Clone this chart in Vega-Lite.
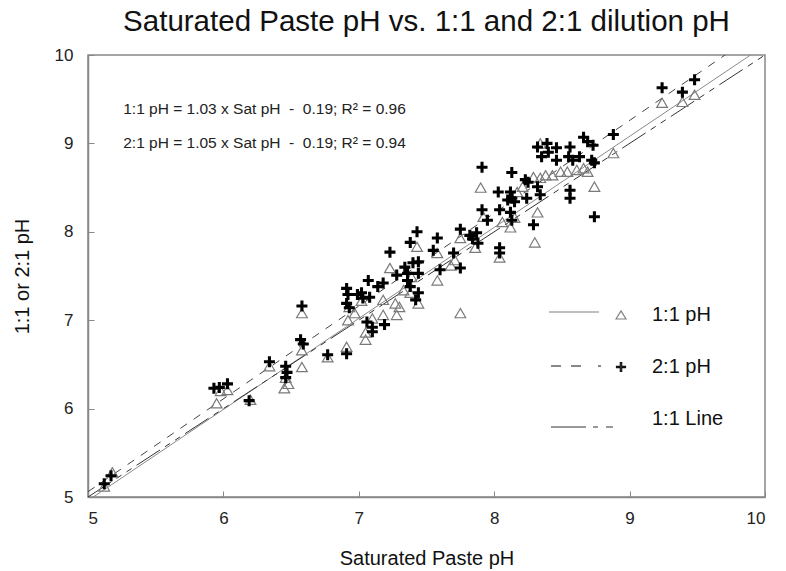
{
"$schema": "https://vega.github.io/schema/vega-lite/v6.json",
"width": 677, "height": 442,
"autosize": {"type": "none"},
"padding": {"left": 88, "top": 55, "right": 21, "bottom": 74},
"background": "white",
"title": {"text": "Saturated Paste pH vs. 1:1 and 2:1 dilution pH", "fontSize": 29.5, "font": "Liberation Sans", "fontWeight": "normal", "color": "#111", "anchor": "middle", "offset": 5},
"config": {
  "view": {"stroke": "#888", "strokeWidth": 1.5},
  "axis": {"domainColor": "#888", "domainWidth": 1.5, "tickColor": "#888", "tickSize": -6, "tickWidth": 1, "labelFont": "Liberation Sans", "labelFontSize": 17, "labelColor": "#222", "titleFont": "Liberation Sans", "titleFontSize": 20, "titleFontWeight": "normal", "titleColor": "#111", "grid": false}
},
"datasets": {
  "p11": [{"sat":5.12,"ph":5.12},{"sat":5.18,"ph":5.28},{"sat":5.95,"ph":6.06},{"sat":5.98,"ph":6.2},{"sat":6.03,"ph":6.21},{"sat":6.2,"ph":6.1},{"sat":6.34,"ph":6.48},{"sat":6.45,"ph":6.23},{"sat":6.48,"ph":6.28},{"sat":6.46,"ph":6.35},{"sat":6.58,"ph":7.08},{"sat":6.58,"ph":6.66},{"sat":6.58,"ph":6.47},{"sat":6.77,"ph":6.58},{"sat":6.91,"ph":6.7},{"sat":6.92,"ph":7.0},{"sat":6.93,"ph":7.15},{"sat":6.97,"ph":7.08},{"sat":7.02,"ph":7.22},{"sat":7.05,"ph":6.86},{"sat":7.05,"ph":6.78},{"sat":7.1,"ph":7.02},{"sat":7.18,"ph":7.06},{"sat":7.18,"ph":7.23},{"sat":7.23,"ph":7.59},{"sat":7.27,"ph":7.19},{"sat":7.28,"ph":7.06},{"sat":7.3,"ph":7.15},{"sat":7.33,"ph":7.34},{"sat":7.38,"ph":7.31},{"sat":7.39,"ph":7.49},{"sat":7.43,"ph":7.83},{"sat":7.44,"ph":7.19},{"sat":7.58,"ph":7.76},{"sat":7.58,"ph":7.45},{"sat":7.68,"ph":7.62},{"sat":7.71,"ph":7.68},{"sat":7.75,"ph":7.08},{"sat":7.75,"ph":7.93},{"sat":7.86,"ph":7.82},{"sat":7.9,"ph":8.5},{"sat":7.92,"ph":8.17},{"sat":8.04,"ph":7.71},{"sat":8.06,"ph":8.11},{"sat":8.12,"ph":8.05},{"sat":8.13,"ph":8.39},{"sat":8.15,"ph":8.16},{"sat":8.17,"ph":8.45},{"sat":8.21,"ph":8.51},{"sat":8.29,"ph":8.62},{"sat":8.3,"ph":7.88},{"sat":8.32,"ph":8.22},{"sat":8.34,"ph":8.61},{"sat":8.34,"ph":9.0},{"sat":8.38,"ph":8.64},{"sat":8.43,"ph":8.64},{"sat":8.49,"ph":8.68},{"sat":8.54,"ph":8.68},{"sat":8.61,"ph":8.7},{"sat":8.66,"ph":8.72},{"sat":8.69,"ph":8.68},{"sat":8.74,"ph":8.51},{"sat":8.88,"ph":8.89},{"sat":9.24,"ph":9.46},{"sat":9.39,"ph":9.47},{"sat":9.48,"ph":9.55}],
  "p21": [{"sat":5.12,"ph":5.15},{"sat":5.17,"ph":5.24},{"sat":5.93,"ph":6.23},{"sat":5.97,"ph":6.24},{"sat":6.03,"ph":6.28},{"sat":6.19,"ph":6.09},{"sat":6.34,"ph":6.53},{"sat":6.46,"ph":6.48},{"sat":6.47,"ph":6.41},{"sat":6.46,"ph":6.35},{"sat":6.58,"ph":7.16},{"sat":6.57,"ph":6.78},{"sat":6.59,"ph":6.73},{"sat":6.77,"ph":6.61},{"sat":6.91,"ph":6.62},{"sat":6.91,"ph":7.36},{"sat":6.92,"ph":7.29},{"sat":6.91,"ph":7.19},{"sat":6.93,"ph":7.14},{"sat":6.99,"ph":7.29},{"sat":7.02,"ph":7.31},{"sat":7.03,"ph":7.25},{"sat":7.07,"ph":7.45},{"sat":7.08,"ph":7.26},{"sat":7.14,"ph":7.38},{"sat":7.18,"ph":7.42},{"sat":7.06,"ph":6.98},{"sat":7.1,"ph":6.92},{"sat":7.19,"ph":6.95},{"sat":7.1,"ph":6.87},{"sat":7.23,"ph":7.77},{"sat":7.38,"ph":7.88},{"sat":7.43,"ph":8.0},{"sat":7.28,"ph":7.51},{"sat":7.34,"ph":7.6},{"sat":7.36,"ph":7.53},{"sat":7.36,"ph":7.45},{"sat":7.4,"ph":7.65},{"sat":7.44,"ph":7.66},{"sat":7.44,"ph":7.53},{"sat":7.38,"ph":7.38},{"sat":7.44,"ph":7.31},{"sat":7.42,"ph":7.23},{"sat":7.55,"ph":7.79},{"sat":7.58,"ph":7.93},{"sat":7.6,"ph":7.57},{"sat":7.7,"ph":7.76},{"sat":7.75,"ph":7.59},{"sat":7.75,"ph":8.03},{"sat":7.82,"ph":7.96},{"sat":7.84,"ph":7.92},{"sat":7.87,"ph":7.99},{"sat":7.88,"ph":7.87},{"sat":7.91,"ph":8.73},{"sat":8.13,"ph":8.67},{"sat":8.03,"ph":8.45},{"sat":8.12,"ph":8.45},{"sat":8.13,"ph":8.38},{"sat":8.1,"ph":8.36},{"sat":8.15,"ph":8.34},{"sat":8.23,"ph":8.59},{"sat":8.25,"ph":8.56},{"sat":8.24,"ph":8.38},{"sat":8.32,"ph":8.51},{"sat":8.34,"ph":8.42},{"sat":7.91,"ph":8.25},{"sat":8.04,"ph":8.25},{"sat":8.12,"ph":8.22},{"sat":8.13,"ph":8.13},{"sat":7.95,"ph":8.13},{"sat":8.04,"ph":7.82},{"sat":8.04,"ph":7.76},{"sat":8.29,"ph":8.08},{"sat":8.56,"ph":8.47},{"sat":8.56,"ph":8.38},{"sat":8.74,"ph":8.17},{"sat":8.32,"ph":8.96},{"sat":8.39,"ph":9.0},{"sat":8.4,"ph":8.9},{"sat":8.46,"ph":8.95},{"sat":8.46,"ph":8.81},{"sat":8.56,"ph":8.96},{"sat":8.55,"ph":8.85},{"sat":8.58,"ph":8.81},{"sat":8.63,"ph":8.85},{"sat":8.66,"ph":9.07},{"sat":8.69,"ph":9.02},{"sat":8.73,"ph":8.98},{"sat":8.72,"ph":8.81},{"sat":8.74,"ph":8.78},{"sat":8.35,"ph":8.85},{"sat":8.88,"ph":9.1},{"sat":9.24,"ph":9.63},{"sat":9.39,"ph":9.58},{"sat":9.48,"ph":9.72}],
  "reg11": [{"sat":5,"ph":4.96},{"sat":10,"ph":10.11}],
  "reg21": [{"sat":5,"ph":5.06},{"sat":10,"ph":10.31}],
  "oneone": [{"sat":5,"ph":5},{"sat":10,"ph":10}],
  "notes": [{"label":"1:1 pH = 1.03 x Sat pH \u00a0-\u00a0 0.19; R² = 0.96","sat":5.26,"ph":9.39},{"label":"2:1 pH = 1.05 x Sat pH \u00a0-\u00a0 0.19; R² = 0.94","sat":5.26,"ph":9.0}],
  "series": [{"series":"1:1 pH"},{"series":"2:1 pH"},{"series":"1:1 Line"}]
},
"encoding": {
  "x": {"field": "sat", "type": "quantitative", "scale": {"domain": [5, 10], "nice": false, "zero": false}, "axis": {"title": "Saturated Paste pH", "values": [5,6,7,8,9,10], "labelPadding": 19, "titlePadding": 22}},
  "y": {"field": "ph", "type": "quantitative", "scale": {"domain": [5, 10], "nice": false, "zero": false}, "axis": {"title": "1:1 or 2:1 pH", "values": [5,6,7,8,9,10], "labelPadding": 21, "titlePadding": 22}}
},
"layer": [
  {"data": {"name": "reg11"}, "mark": {"type": "line", "clip": true, "color": "#8a8a8a", "strokeWidth": 1}},
  {"data": {"name": "reg21"}, "mark": {"type": "line", "clip": true, "color": "#444", "strokeWidth": 1, "strokeDash": [8, 8]}},
  {"data": {"name": "oneone"}, "mark": {"type": "line", "clip": true, "color": "#333", "strokeWidth": 1, "strokeDash": [28, 6, 6, 6, 6, 6]}},
  {"data": {"name": "p11"}, "mark": {"type": "point", "shape": "triangle-up", "size": 115, "filled": false, "stroke": "#7a7a7a", "strokeWidth": 1.2, "opacity": 1}},
  {"data": {"name": "p21"}, "mark": {"type": "point", "shape": "M-1,-0.28H-0.28V-1H0.28V-0.28H1V0.28H0.28V1H-0.28V0.28H-1Z", "size": 121, "filled": true, "color": "#000", "opacity": 1}},
  {"data": {"name": "notes"}, "mark": {"type": "text", "align": "left", "baseline": "middle", "font": "Liberation Sans", "fontSize": 15.5, "color": "#222"}, "encoding": {"text": {"field": "label"}}},
  {"data": {"name": "series"}, "mark": {"type": "point", "filled": false, "opacity": 0},
   "encoding": {"x": {"value": 0}, "y": {"value": 0},
     "shape": {"field": "series", "type": "nominal", "scale": {"domain": ["1:1 pH", "2:1 pH", "1:1 Line"], "range": ["M-72,-3H-22M-5,4L0,-4L5,4Z", "M-70,-1H-60M-50,-1H-40M-23,-1H-20M-4.5,-0.7H-0.7V-4.5H0.7V-0.7H4.5V0.7H0.7V4.5H-0.7V0.7H-4.5Z", "M-70,8H-35M-28,8H-23M-15,8H-8"]},
       "legend": {"title": null, "orient": "none", "legendX": 523, "legendY": 250, "labelFontSize": 20, "labelFont": "Liberation Sans", "labelColor": "#111", "symbolSize": 4, "symbolStrokeWidth": 1.2, "symbolOpacity": 1, "rowPadding": 32, "labelOffset": 21, "padding": 0}},
     "color": {"field": "series", "type": "nominal", "scale": {"domain": ["1:1 pH", "2:1 pH", "1:1 Line"], "range": ["#808080", "#111", "#333"]},
       "legend": {"title": null, "orient": "none", "legendX": 523, "legendY": 250, "labelFontSize": 20, "labelFont": "Liberation Sans", "labelColor": "#111", "symbolSize": 4, "symbolStrokeWidth": 1.2, "symbolOpacity": 1, "rowPadding": 32, "labelOffset": 21, "padding": 0}}
   }}
]
}
